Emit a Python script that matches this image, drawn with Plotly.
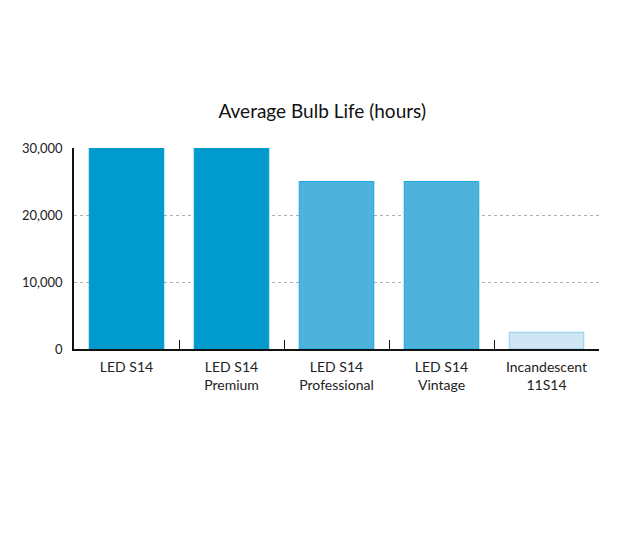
import plotly.graph_objects as go

categories = ["LED S14", "LED S14<br>Premium", "LED S14<br>Professional", "LED S14<br>Vintage", "Incandescent<br>11S14"]
hours = [30000, 30000, 25000, 25000, 2500]
fill_colors = ["#009bcc", "#009bcc", "#4db3dc", "#4db3dc", "#cfe5f4"]
line_colors = ["#009bcc", "#009bcc", "#1aa7da", "#1aa7da", "#8fcdef"]
y_ticks = [0, 10000, 20000, 30000]

fig = go.Figure(go.Bar(
    x=categories, y=hours,
    marker=dict(color=fill_colors, line=dict(color=line_colors, width=1)),
    width=0.71,
))

fig.update_layout(
    width=640, height=533,
    paper_bgcolor="white", plot_bgcolor="white",
    margin=dict(l=66, r=49, t=140, b=192),
    font=dict(family="Lato, Open Sans, sans-serif", color="#222"),
    title=dict(text="Average Bulb Life (hours)", x=0.491, xanchor="center", y=0.807, yanchor="middle",
               font=dict(size=19, color="#111")),
    showlegend=False,
)
fig.update_xaxes(
    showline=True, linecolor="#111", linewidth=1.5,
    ticks="inside", tickson="boundaries", ticklen=9, tickcolor="#111", tickwidth=1.3,
    tickfont=dict(size=14, color="#222"), showgrid=False, ticklabelstandoff=4,
)
fig.update_yaxes(
    range=[0, 30000], tickvals=y_ticks, tickformat=",",
    showline=True, linecolor="#111", linewidth=1.5,
    showgrid=True, gridcolor="#b0b0b0", griddash="dot", gridwidth=1,
    zeroline=False, ticks="", ticklabelstandoff=7,
    tickfont=dict(size=13, color="#222"),
)

fig.write_html("out.html")
